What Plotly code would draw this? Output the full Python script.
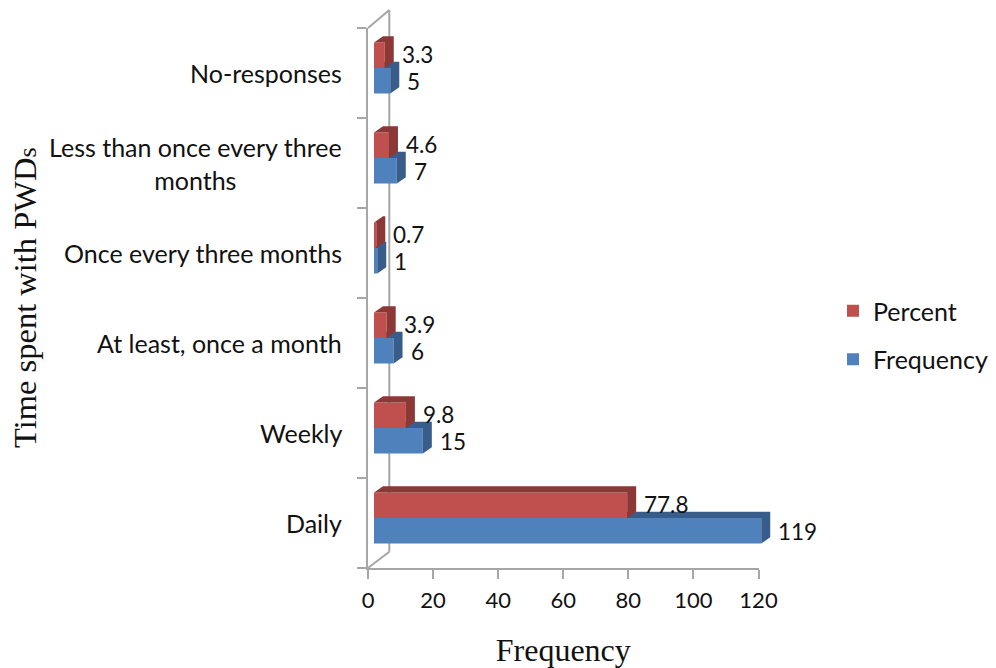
import plotly.graph_objects as go

categories = ["Daily", "Weekly", "At least, once a month", "Once every three months",
              "Less than once every three<br>months", "No-responses"]
frequency = [119, 15, 6, 1, 7, 5]
percent = [77.8, 9.8, 3.9, 0.7, 4.6, 3.3]
x_ticks = [0, 20, 40, 60, 80, 100, 120]

W, H = 996, 668
BLUE, BLUE_DARK = "#4F81BD", "#385D8A"
RED, RED_DARK = "#C0504D", "#8C3836"
GREY = "#A6A6A6"
INK = "#111111"
SANS = "Lato"
SERIF = "Liberation Serif"

# plot box in pixels
X0, X1 = 368, 758.5
Y0, Y1 = 568, 28
# bars sit a little inside the fake 3d floor
BAR_DX, BAR_DY = 6, 5
px_per_x = (X1 - X0) / 120
px_per_y = (Y0 - Y1) / 6
DEPTH_X = 9 / px_per_x
DEPTH_Y = 6.3 / px_per_y
BAR_H = 25.5 / px_per_y
LABEL_SHIFT = 15
# bar axes run past 120 so the side face of the long bar is not clipped
BAR_XMAX = 130


def fx(p):
    return p / W


def fy(p):
    return 1 - p / H


def band(vals, low, high, color, dark, name, xa, ya):
    """front bars and the two dark faces of one series, on their own axes"""
    traces = [go.Bar(x=vals, y=list(range(len(vals))), orientation="h", name=name,
                     marker=dict(color=color, line=dict(width=0)), width=BAR_H,
                     offset=low, legendgroup=name, xaxis=xa, yaxis=ya, hoverinfo="x+name")]
    for i, v in enumerate(vals):
        face_x = [0, DEPTH_X, v + DEPTH_X, v + DEPTH_X, v, v, 0]
        face_y = [i + high, i + high + DEPTH_Y, i + high + DEPTH_Y, i + low + DEPTH_Y, i + low, i + high, i + high]
        traces.append(go.Scatter(x=face_x, y=face_y, mode="lines", fill="toself", fillcolor=dark,
                                 line=dict(width=0), showlegend=False, hoverinfo="skip",
                                 legendgroup=name, xaxis=xa, yaxis=ya))
    return traces


fig = go.Figure()
# go.Bar offset is the lower edge. x3/y3 draws over x2/y2 so red covers blue
fig.add_traces(band(percent, 0, BAR_H, RED, RED_DARK, "Percent", "x3", "y3"))
fig.add_traces(band(frequency, -BAR_H, 0, BLUE, BLUE_DARK, "Frequency", "x2", "y2"))
# empty trace so the base axes are drawn
fig.add_trace(go.Scatter(x=[0], y=[0], mode="none", showlegend=False, hoverinfo="skip"))

hidden = dict(visible=False, fixedrange=True)
bar_x = dict(domain=[fx(X0 + BAR_DX), fx(X0 + BAR_DX + BAR_XMAX * px_per_x)], range=[0, BAR_XMAX], **hidden)
bar_y = dict(domain=[fy(Y0 - BAR_DY), fy(Y1 - BAR_DY)], range=[-0.5, 5.5], **hidden)

annotations = []
for i, c in enumerate(categories):
    annotations.append(dict(x=fx(344), y=i, xref="paper", yref="y", text=c, showarrow=False,
                            xanchor="right", align="center", font=dict(family=SANS, size=25, color=INK)))
for i, v in enumerate(frequency):
    annotations.append(dict(x=v, y=i - BAR_H / 2, xref="x2", yref="y2", text=str(v), showarrow=False,
                            xanchor="left", xshift=LABEL_SHIFT, yshift=-1,
                            font=dict(family=SANS, size=22.5, color=INK)))
for i, v in enumerate(percent):
    annotations.append(dict(x=v, y=i + BAR_H / 2, xref="x3", yref="y3", text=str(v), showarrow=False,
                            xanchor="left", xshift=LABEL_SHIFT, yshift=1,
                            font=dict(family=SANS, size=22.5, color=INK)))
# y title as annotation, standoff would not move it
annotations.append(dict(x=fx(25), y=fy(298), xref="paper", yref="paper", textangle=-90, showarrow=False,
                        xanchor="center", yanchor="middle",
                        text="Time spent with PWD<span style='font-size:26px'>s</span>",
                        font=dict(family=SERIF, size=32.5, color=INK)))

# back wall and the two slanted edges
wall = [(368, 28, 389.3, 10), (389.3, 10, 389.3, 551.7), (389.3, 551.7, 368, 568)]
shapes = [dict(type="line", xref="paper", yref="paper", x0=fx(a), y0=fy(b), x1=fx(c), y1=fy(d),
               layer="below", line=dict(color=GREY, width=2)) for a, b, c, d in wall]

fig.update_layout(
    width=W, height=H,
    margin=dict(l=0, r=0, t=0, b=0, autoexpand=False),
    paper_bgcolor="white", plot_bgcolor="rgba(0,0,0,0)",
    showlegend=True,
    font=dict(family=SANS, size=22, color=INK),
    legend=dict(x=fx(833), y=fy(335), xanchor="left", yanchor="middle",
                traceorder="grouped", tracegroupgap=13, font=dict(family=SANS, size=25),
                bgcolor="rgba(0,0,0,0)"),
    xaxis=dict(domain=[fx(X0), fx(X1)], range=[0, 120], tickvals=x_ticks, ticks="outside", ticklen=9,
               tickwidth=2, tickcolor=GREY, linecolor=GREY, linewidth=2, showgrid=False, zeroline=False,
               tickfont=dict(family=SANS, size=22, color=INK), anchor="y", ticklabelstandoff=3,
               title=dict(text="Frequency", font=dict(family=SERIF, size=32, color=INK), standoff=26)),
    yaxis=dict(domain=[fy(Y0), fy(Y1)], range=[-0.5, 5.5], tickvals=[i - 0.5 for i in range(7)],
               ticks="outside", ticklen=9, tickwidth=2, tickcolor=GREY, linecolor=GREY, linewidth=2,
               showgrid=False, zeroline=False, showticklabels=False, anchor="x"),
    xaxis2=dict(anchor="y2", **bar_x), yaxis2=dict(anchor="x2", **bar_y),
    xaxis3=dict(anchor="y3", **bar_x), yaxis3=dict(anchor="x3", **bar_y),
    annotations=annotations,
    shapes=shapes,
)

fig.write_html("out.html", config=dict(displayModeBar=False),
               post_script="document.body.style.margin='0';document.body.style.overflow='hidden';")
